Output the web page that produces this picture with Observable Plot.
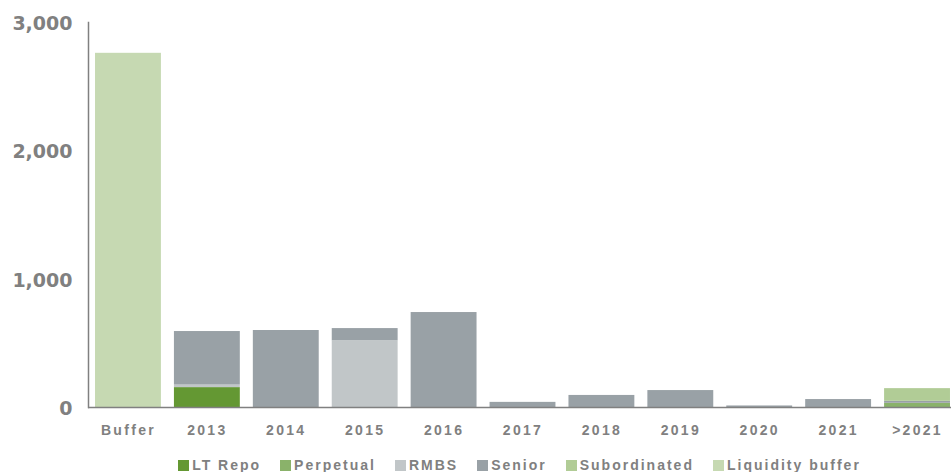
<!DOCTYPE html>
<html>
<head>
<meta charset="utf-8">
<script src="https://cdn.jsdelivr.net/npm/d3@7"></script>
<script src="https://cdn.jsdelivr.net/npm/@observablehq/plot@0.6"></script>
<style>
  html, body { margin: 0; padding: 0; background: #fff; overflow: hidden; }
  #chart svg { display: block; }
  #chart svg [aria-label="x-axis tick label"] text { letter-spacing: 2.3px; }
  .legend { display: flex; justify-content: center; padding-left: 88px; gap: 19px; margin-top: 6px;
    font-family: "Liberation Sans", Arial, sans-serif; font-weight: bold; font-size: 14px; letter-spacing: 2px; color: #808080; line-height: 14px; }
  .legend span.item { display: flex; align-items: center; white-space: nowrap; }
  .legend span.sw { display: inline-block; width: 11px; height: 11px; margin-right: 3px; }
</style>
</head>
<body>
<div id="chart"></div>
<script>
const categories = ["Buffer", "2013", "2014", "2015", "2016", "2017", "2018", "2019", "2020", "2021", ">2021"];
const series = ["LT Repo", "Perpetual", "RMBS", "Senior", "Subordinated", "Liquidity buffer"];
const colors = ["#649833", "#8ab26a", "#c1c6c8", "#99a1a6", "#b1cc96", "#c6d9b2"];
const ltRepo          = [0,    155, 0,   0,   0,   0,  0,  0,   0,  0,  0];
const perpetual       = [0,    0,   0,   0,   0,   0,  0,  0,   0,  0,  33];
const rmbs            = [0,    20,  0,   520, 0,   0,  0,  0,   0,  0,  0];
const senior          = [0,    417, 600, 95,  740, 40, 94, 132, 12, 62, 15];
const subordinated    = [0,    0,   0,   0,   0,   0,  0,  0,   0,  0,  99];
const liquidityBuffer = [2760, 0,   0,   0,   0,   0,  0,  0,   0,  0,  0];
const yTicks = [0, 1000, 2000, 3000];

const seriesValues = [ltRepo, perpetual, rmbs, senior, subordinated, liquidityBuffer];
const data = [];
series.forEach((s, i) => categories.forEach((c, j) => data.push({category: c, series: s, value: seriesValues[i][j]})));

const chart = Plot.plot({
  width: 951,
  height: 452,
  marginTop: 22,
  marginBottom: 45,
  marginLeft: 88,
  marginRight: 0,
  x: {domain: categories, range: [88, 957], paddingInner: 0.165, paddingOuter: 0.089, round: false},
  y: {domain: [0, 3000]},
  color: {domain: series, range: colors},
  marks: [
    Plot.barY(data, {x: "category", y: "value", fill: "series", z: "series", order: series}),
    Plot.ruleY([0], {stroke: "#808080", strokeWidth: 1.5}),
    Plot.frame({anchor: "left", stroke: "#808080", strokeWidth: 1.5}),
    Plot.axisY({ticks: yTicks, tickSize: 0, tickPadding: 16, dy: 1.5, tickFormat: d3.format(","), fontSize: 19, fontWeight: "bold",
      fontFamily: "DejaVu Sans", fill: "#808080", label: null}),
    Plot.axisX({tickSize: 0, tickPadding: 18, fontSize: 14, fontWeight: "bold", fontFamily: "Liberation Sans", fill: "#808080", label: null})
  ]
});
document.getElementById("chart").appendChild(chart);

const legend = document.createElement("div");
legend.className = "legend";
series.forEach((s, i) => {
  const item = document.createElement("span");
  item.className = "item";
  const sw = document.createElement("span");
  sw.className = "sw";
  sw.style.background = colors[i];
  item.appendChild(sw);
  item.appendChild(document.createTextNode(s));
  legend.appendChild(item);
});
document.getElementById("chart").appendChild(legend);
</script>
</body>
</html>
